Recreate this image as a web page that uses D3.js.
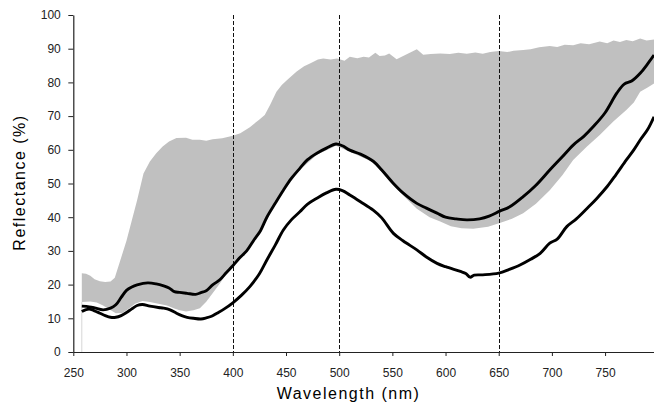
<!DOCTYPE html>
<html>
<head>
<meta charset="utf-8">
<script src="https://cdn.jsdelivr.net/npm/d3@7"></script>
<style>
  html, body { margin: 0; padding: 0; background: #fff; }
  svg { display: block; }
  .tick text { font-family: "Liberation Sans", Arial, sans-serif; font-size: 12px; fill: #222; }
  .title { font-family: "Liberation Sans", Arial, sans-serif; font-size: 16px; fill: #000; letter-spacing: 1.5px; }
</style>
</head>
<body>
<script>
// ---- Data ----
const xTicks = [250, 300, 350, 400, 450, 500, 550, 600, 650, 700, 750];
const yTicks = [0, 10, 20, 30, 40, 50, 60, 70, 80, 90, 100];
const markerWavelengths = [400, 500, 650];

// Upper edge of grey range band
const bandTopNm = [258,262,266,270,275,280,285,289,294,300,305,310,316,322,328,334,340,347,356,362,369,375,381,390,400,407,416,425,430,435,441,446,451,460,467,473,480,485,492,498,505,510,517,523,528,534,538,543,547,554,563,573,579,586,595,604,612,620,628,635,642,650,658,664,673,680,688,698,705,712,720,727,735,745,752,758,764,770,776,783,789,796];
const bandTopVal = [23.4,23.2,22.6,21.6,21.0,20.8,20.9,22,27,33,39,45,53,56.5,59,61,62.5,63.5,63.6,63,63,62.7,63.1,63.4,64.2,64.9,66.7,69,70.3,73.3,77.2,79.2,80.7,83.2,84.8,85.7,86.8,87.1,86.8,87.1,86.4,87.6,87.2,87.6,87.4,88.8,87.8,88.0,88.6,86.9,88.3,89.8,88.2,88.4,88.6,88.4,88.8,88.5,88.9,88.5,89.0,89.3,89.0,89.4,89.6,89.8,90.4,90.8,90.5,91.2,91.0,91.6,91.3,92.1,91.6,92.4,92.0,92.6,92.2,93.0,92.4,92.7];

// Lower edge of grey range band
const bandBotNm = [258,266,272,278,284,290,296,302,308,315,322,330,338,345,350,356,363,369,375,381,388,394,400,410,420,432,447,463,479,497,510,532,551,560,573,585,595,605,615,626,640,651,662,673,685,698,710,720,733,745,758,770,777,783,790,796];
const bandBotVal = [14.8,15.0,14.7,13.8,12.6,11.5,11.6,12.8,14.3,15.1,14.8,14.3,13.8,12.9,12.4,12.0,12.4,13.0,14.9,17.4,20.4,23.4,25.3,28.5,32.8,39.5,47.5,54,58.5,61.2,59.4,56.3,49.5,46.5,42.5,40,38.7,37.3,36.7,36.6,37.2,38.3,39.5,41.2,44,48,52.5,57,61,64.4,68.5,71.8,74,77.2,78.5,79.7];

// Upper black curve
const curveANm = [258,265,270,278,285,290,295,300,305,310,320,328,335,340,345,350,357,365,370,375,381,388,394,400,406,413,420,426,432,440,447.5,455,463,470,479,488,497,503,510,520,532,540,551,560,573,582,592,600,610,620,632,641,651,660,673,685,698,710,720,730,739,750,761,768,775,783,790,796];
const curveAVal = [13.6,13.4,13.1,12.5,13.0,14.0,16.2,18.3,19.3,19.9,20.5,20.2,19.6,19.0,17.9,17.7,17.4,17.1,17.6,18.2,19.9,21.5,23.6,25.6,27.8,30,33.3,36,40,44.2,48,51.5,54.5,57,59,60.5,61.7,61.2,59.9,58.7,56.6,54.0,50,47.2,44.1,42.7,41.2,40,39.5,39.2,39.5,40.3,41.8,43,46.1,49.5,54,58,61.4,64,66.9,71,76.8,79.5,80.4,82.7,85.5,88.1];

// Lower black curve
const curveBNm = [258,262,266,270,275,280,285,290,295,300,305,310,315,322,330,335,341,347,352,357,363,370,375,380,385,392,400,408,416,425,432,440,447.5,455,463,470,479,488,497,503,510,520,532,540,551,560,573,582,592,600,614,619,623,627,635,650,660,670,680,689,698,705,714,723,733,742,752,760,770,777,783,790,796];
const curveBVal = [12.0,12.6,12.7,12.2,11.5,10.8,10.3,10.3,10.8,11.7,12.8,13.8,14.1,13.6,13.2,13.0,12.5,11.5,10.8,10.3,10.0,9.8,10.1,10.6,11.5,12.8,14.6,16.8,19.4,23.2,27.3,31.8,36.2,39.2,41.6,43.8,45.6,47.2,48.3,47.9,46.6,44.6,42.1,39.8,35.2,33,30.3,28.2,26.3,25.3,23.9,23.3,22.2,22.8,22.9,23.4,24.5,25.8,27.5,29.3,32.3,33.5,37.2,39.5,42.6,45.5,49.1,52.5,57,60,62.9,66,69.8];

// ---- Chart ----
const W = 654, H = 407;
const svg = d3.select("body").append("svg").attr("width", W).attr("height", H);

const x = d3.scaleLinear().domain([250, 796]).range([73.3, 654]);
const y = d3.scaleLinear().domain([0, 100]).range([352, 15]);

const zip = (a, b) => a.map((d, i) => [d, b[i]]);
const topPts = zip(bandTopNm, bandTopVal);
const botPts = zip(bandBotNm, bandBotVal);
const line = d3.line().x(d => x(d[0])).y(d => y(d[1]));

// grey band
svg.append("path")
  .attr("d", line(topPts.concat(botPts.slice().reverse())) + "Z")
  .attr("fill", "#c0c0c0")
  .attr("stroke", "none");

// faint left edge line of band
svg.append("line")
  .attr("x1", x(bandBotNm[0])).attr("x2", x(bandBotNm[0]))
  .attr("y1", y(bandBotVal[0])).attr("y2", y(0))
  .attr("stroke", "#d6d6d6").attr("stroke-width", 1);

// dashed markers
svg.selectAll("line.marker").data(markerWavelengths).enter().append("line")
  .attr("class", "marker")
  .attr("x1", d => Math.round(x(d)) + 0.5).attr("x2", d => Math.round(x(d)) + 0.5)
  .attr("y1", y(100)).attr("y2", y(0))
  .attr("stroke", "#111").attr("stroke-width", 1)
  .attr("stroke-dasharray", "4,2");

// black curves
const smooth = d3.line().x(d => x(d[0])).y(d => y(d[1])).curve(d3.curveCatmullRom.alpha(0.5));
[zip(curveANm, curveAVal), zip(curveBNm, curveBVal)].forEach(pts => {
  svg.append("path")
    .attr("d", smooth(pts))
    .attr("fill", "none")
    .attr("stroke", "#000")
    .attr("stroke-width", 2.9)
    .attr("stroke-linejoin", "round");
});

// axes
const xAxis = d3.axisBottom(x).tickValues(xTicks).tickSize(4).tickPadding(12).tickSizeOuter(0);
const yAxis = d3.axisLeft(y).tickValues(yTicks).tickSize(5).tickPadding(7.5).tickSizeOuter(0);

const gx = svg.append("g").attr("transform", `translate(0,${y(0)})`).call(xAxis);
const gy = svg.append("g").attr("transform", `translate(${x(250)},0)`).call(yAxis);
[gx, gy].forEach(g => {
  g.select(".domain").attr("stroke", "#222").attr("stroke-width", 1.2);
  g.selectAll(".tick line").attr("stroke", "#222");
});

// titles
svg.append("text").attr("class", "title")
  .attr("x", 348.5).attr("y", 398.5)
  .attr("text-anchor", "middle")
  .text("Wavelength (nm)");

svg.append("text").attr("class", "title")
  .attr("transform", "translate(24.5,182.5) rotate(-90)")
  .attr("text-anchor", "middle")
  .text("Reflectance (%)");
</script>
</body>
</html>
